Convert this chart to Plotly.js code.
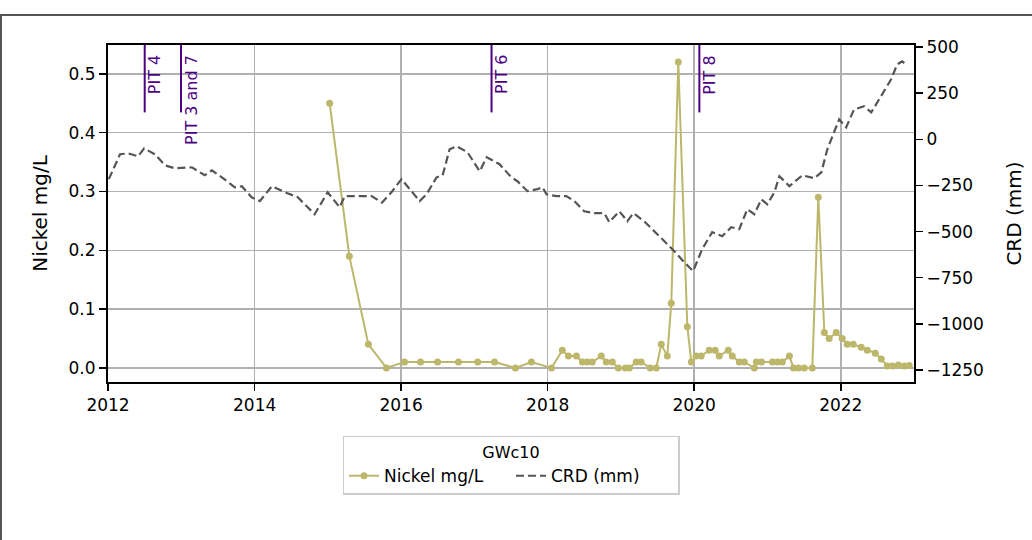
<!DOCTYPE html>
<html>
<head>
<meta charset="utf-8">
<script src="https://cdn.plot.ly/plotly-3.0.1.min.js"></script>
<style>
  html, body { margin: 0; padding: 0; background: #fff; }
  #wrap { position: relative; width: 1032px; height: 540px; overflow: hidden; }
  #chart { position: absolute; left: 0; top: 0; width: 1032px; height: 540px; }
  #frame { position: absolute; left: 0; top: 14px; width: 1040px; height: 540px;
           border-top: 2px solid #555; border-left: 2px solid #555; box-sizing: border-box; pointer-events: none; }
</style>
</head>
<body>
<div id="wrap"><div id="chart"></div><div id="frame"></div></div>
<script>
// ---- Data ----
const nickelDates = [
  "2015-01-10","2015-04-18","2015-07-22","2015-10-20","2016-01-18","2016-04-07","2016-07-01","2016-10-13",
  "2017-01-17","2017-04-11","2017-07-24","2017-10-12","2018-01-20","2018-03-15","2018-04-14","2018-05-24",
  "2018-06-23","2018-07-17","2018-08-11","2018-09-25","2018-10-20","2018-11-19","2018-12-19","2019-01-23",
  "2019-02-12","2019-03-18","2019-04-12","2019-05-27","2019-06-26","2019-07-21","2019-08-20","2019-09-09",
  "2019-10-14","2019-11-28","2019-12-18","2020-01-11","2020-02-05","2020-03-16","2020-04-15","2020-05-05",
  "2020-06-19","2020-07-09","2020-08-13","2020-09-07","2020-10-27","2020-11-06","2020-12-01","2021-01-25",
  "2021-02-19","2021-03-15","2021-04-20","2021-05-10","2021-06-04","2021-07-03","2021-08-12","2021-09-11",
  "2021-10-11","2021-11-04","2021-12-09","2022-01-08","2022-02-02","2022-03-04","2022-04-13","2022-05-13",
  "2022-06-22","2022-07-22","2022-08-21","2022-09-15","2022-10-15","2022-11-14","2022-12-08"
];
const nickelValues = [
  0.45,0.19,0.04,0.0,0.01,0.01,0.01,0.01,
  0.01,0.01,0.0,0.01,0.0,0.03,0.02,0.02,
  0.01,0.01,0.01,0.02,0.01,0.01,0.0,0.0,
  0.0,0.01,0.01,0.0,0.0,0.04,0.02,0.11,
  0.52,0.07,0.01,0.02,0.02,0.03,0.03,0.02,
  0.03,0.02,0.01,0.01,0.0,0.01,0.01,0.01,
  0.01,0.01,0.02,0.0,0.0,0.0,0.0,0.29,
  0.06,0.05,0.06,0.05,0.04,0.04,0.035,0.03,
  0.025,0.015,0.003,0.003,0.005,0.003,0.004
];
const crdDates = [
  "2012-01-05","2012-03-01","2012-04-10","2012-05-30","2012-06-29","2012-08-22","2012-10-11","2012-11-30",
  "2013-02-22","2013-04-27","2013-06-02","2013-07-22","2013-09-24","2013-10-29","2013-12-17","2014-01-27",
  "2014-03-28","2014-06-01","2014-08-04","2014-10-27","2014-12-31","2015-03-01","2015-03-26","2015-06-18",
  "2015-08-07","2015-09-28","2015-11-14","2016-01-03","2016-02-02","2016-04-03","2016-05-07","2016-06-26",
  "2016-07-26","2016-08-30","2016-10-04","2016-11-27","2017-01-27","2017-03-03","2017-05-06","2017-07-04",
  "2017-08-03","2017-09-22","2017-11-11","2017-12-06","2017-12-26","2018-02-14","2018-04-04","2018-05-14",
  "2018-07-02","2018-08-21","2018-10-10","2018-11-04","2018-12-24","2019-02-02","2019-03-04","2019-04-27",
  "2019-07-01","2019-08-05","2019-09-24","2019-11-12","2019-12-27","2020-02-10","2020-03-31","2020-05-20",
  "2020-07-04","2020-08-13","2020-09-22","2020-10-27","2020-12-01","2020-12-31","2021-02-04","2021-03-01",
  "2021-04-20","2021-06-23","2021-08-22","2021-09-26","2021-10-26","2021-12-24","2022-01-28","2022-03-08",
  "2022-04-27","2022-06-02","2022-07-22","2022-09-09","2022-10-09","2022-11-03","2022-11-28"
];
const crdValues = [
  -216,-81,-76,-92,-49,-81,-141,-157,
  -152,-195,-168,-206,-260,-254,-314,-335,
  -254,-287,-314,-406,-287,-368,-308,-308,
  -308,-343,-287,-216,-254,-335,-298,-206,
  -195,-54,-38,-70,-173,-97,-135,-206,
  -227,-281,-270,-260,-298,-308,-308,-335,
  -390,-400,-400,-449,-390,-444,-400,-444,
  -514,-552,-606,-665,-714,-595,-503,-525,
  -476,-487,-379,-406,-325,-352,-287,-200,
  -254,-195,-211,-179,-54,108,65,162,
  179,146,233,325,406,422,400
];
const pitNames = ["PIT 4", "PIT 3 and 7", "PIT 6", "PIT 8"];
const pitDates = ["2012-07-02", "2012-12-30", "2017-03-27", "2020-01-27"];
const legendTitle = "GWc10";
const xTickStart = "2012-01-01";

// ---- Styles ----
const FONT = "DejaVu Sans, sans-serif";
const PIT_COLOR = "#4B0082";
const FS = 17;

const traces = [
  {
    x: nickelDates, y: nickelValues, name: "Nickel mg/L", type: "scatter", mode: "lines+markers",
    line: { color: "#BDB76B", width: 2 }, marker: { color: "#BDB76B", size: 7 }, yaxis: "y"
  },
  {
    x: crdDates, y: crdValues, name: "CRD (mm)", type: "scatter", mode: "lines",
    line: { color: "#555555", width: 2.2, dash: "8px,4px" }, yaxis: "y2"
  }
];

const shapes = pitDates.map(d => ({
  type: "line", xref: "x", yref: "paper", x0: d, x1: d, y0: 0.8, y1: 1.0,
  line: { color: PIT_COLOR, width: 2 }
}));
const annotations = pitDates.map((d, i) => ({
  x: d, xref: "x", y: 0.975, yref: "paper", text: pitNames[i], showarrow: false,
  textangle: -90, xanchor: "left", yanchor: "top", xshift: -1,
  font: { family: FONT, size: 16, color: PIT_COLOR }
}));

const layout = {
  width: 1032, height: 540,
  margin: { l: 108, r: 118, t: 45, b: 158 },
  paper_bgcolor: "#fff", plot_bgcolor: "#fff",
  font: { family: FONT, size: FS, color: "#000" },
  showlegend: true,
  legend: {
    orientation: "h", x: 0.5, xanchor: "center", y: -0.16, yanchor: "top",
    bordercolor: "#cccccc", borderwidth: 1.5, bgcolor: "#fff",
    title: { text: legendTitle, side: "top center", font: { family: FONT, size: 16 } },
    font: { family: FONT, size: FS }, entrywidth: 122, entrywidthmode: "pixels"
  },
  xaxis: {
    type: "date", range: ["2012-01-01", "2023-01-01"], tick0: xTickStart, dtick: "M24",
    tickformat: "%Y", showgrid: true, gridcolor: "#b0b0b0", gridwidth: 1.5,
    showline: true, linecolor: "#000", linewidth: 2, mirror: true,
    ticks: "outside", ticklen: 7, tickwidth: 1.5, tickcolor: "#000", zeroline: false
  },
  yaxis: {
    range: [-0.024, 0.549], dtick: 0.1, tick0: 0, tickformat: ".1f",
    title: { text: "Nickel mg/L", standoff: 16 },
    showgrid: true, gridcolor: "#b0b0b0", gridwidth: 1.5,
    showline: true, linecolor: "#000", linewidth: 2, mirror: true,
    ticks: "outside", ticklen: 7, tickwidth: 1.5, tickcolor: "#000", zeroline: false
  },
  yaxis2: {
    range: [-1315, 511], dtick: 250, tick0: 0, overlaying: "y", side: "right",
    title: { text: "CRD (mm)", standoff: 24 },
    showgrid: false, showline: true, linecolor: "#000", linewidth: 2,
    ticks: "outside", ticklen: 7, tickwidth: 1.5, tickcolor: "#000", zeroline: false
  },
  shapes: shapes,
  annotations: annotations
};

Plotly.newPlot("chart", traces, layout, { displayModeBar: false, staticPlot: true });
</script>
</body>
</html>
